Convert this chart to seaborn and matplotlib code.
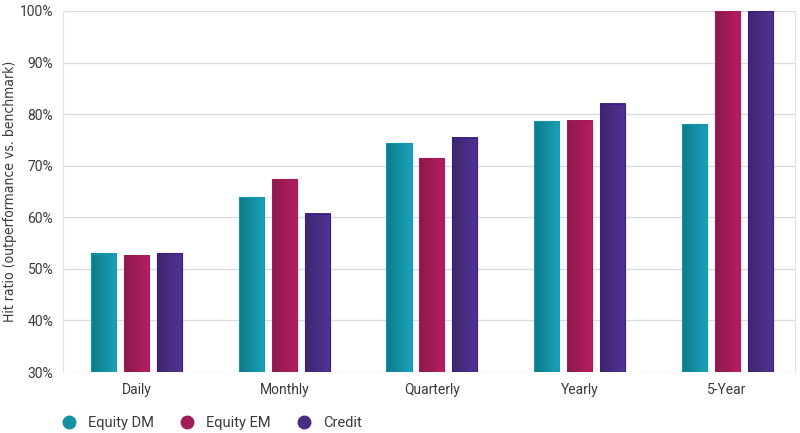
import matplotlib
matplotlib.use("Agg")
import matplotlib.pyplot as plt
import numpy as np
import pandas as pd
import seaborn as sns
from matplotlib.colors import LinearSegmentedColormap
from matplotlib.lines import Line2D
from matplotlib.ticker import FuncFormatter

periods = ["Daily", "Monthly", "Quarterly", "Yearly", "5-Year"]
series = ["Equity DM", "Equity EM", "Credit"]
equity_dm = [52.9, 63.9, 74.4, 78.6, 78.0]
equity_em = [52.5, 67.4, 71.4, 78.7, 100.0]
credit = [53.0, 60.7, 75.4, 82.0, 100.0]

# left -> right gradient per series, plus a flat colour for the legend
grad_colors = {
    "Equity DM": ("#0c7a8a", "#1ba2ba"),
    "Equity EM": ("#8a1a4b", "#b71f62"),
    "Credit": ("#3d276d", "#523394"),
}
edge_colors = {"Equity DM": "#1496ab", "Equity EM": "#a81a55", "Credit": "#3a1c8c"}
legend_colors = {"Equity DM": "#158fa3", "Equity EM": "#a01c58", "Credit": "#472d85"}

df = pd.DataFrame({
    "period": periods * 3,
    "series": [s for s in series for _ in periods],
    "value": equity_dm + equity_em + credit,
})

sns.set_style("white")
plt.rcParams["font.family"] = ["Roboto", "DejaVu Sans"]
text_color = "#3a3a3a"

fig = plt.figure(figsize=(8, 4.33), dpi=100)
ax = fig.add_axes([63 / 800, 1 - 372 / 433, (795 - 63) / 800, (372 - 11) / 433])

ymin, ymax = 30, 100
sns.barplot(data=df, x="period", y="value", hue="series", order=periods, hue_order=series,
            palette=[legend_colors[s] for s in series], width=0.67, gap=0.24,
            legend=False, ax=ax, zorder=3)

for name, cont in zip(series, ax.containers):
    cmap = LinearSegmentedColormap.from_list(name, grad_colors[name])
    grad = np.linspace(0, 1, 64).reshape(1, -1)
    for patch in cont.patches:
        x0, y0 = patch.get_x(), patch.get_y()
        w, h = patch.get_width(), patch.get_height()
        top = min(y0 + h, ymax)
        ax.imshow(grad, cmap=cmap, aspect="auto", extent=[x0, x0 + w, max(y0, ymin), top],
                  zorder=3, interpolation="bilinear")
        patch.set_facecolor("none")
        patch.set_edgecolor(edge_colors[name])
        patch.set_linewidth(0.8)
        patch.set_zorder(4)

ax.set_xlim(-0.5, 4.46)
ax.set_ylim(ymin, ymax)
ax.set_yticks(np.arange(30, 101, 10))
ax.yaxis.set_major_formatter(FuncFormatter(lambda v, p: f"{v:.0f}%"))
ax.grid(axis="y", color="#dcdcdc", linewidth=1, zorder=0)
ax.set_axisbelow(True)
for side in ["top", "bottom"]:
    ax.spines[side].set_visible(False)
for side in ["left", "right"]:
    ax.spines[side].set_color("#e2e2e2")
    ax.spines[side].set_linewidth(0.8)
ax.tick_params(axis="both", length=0, colors=text_color)
ax.tick_params(axis="y", labelsize=10, pad=7)
ax.tick_params(axis="x", labelsize=10, pad=8)
ax.set_xlabel("")
# condensed face so the long label fits the plot height like in the original
ax.set_ylabel("Hit ratio (outperformance vs. benchmark)", fontsize=10, color=text_color,
              family="DejaVu Sans", fontstretch="condensed", labelpad=2)

handles = [Line2D([0], [0], marker="o", linestyle="", markersize=9,
                  markerfacecolor=legend_colors[s], markeredgecolor=legend_colors[s]) for s in series]
fig.legend(handles, series, loc="center left", bbox_to_anchor=(41 / 800, 1 - 423 / 433),
           ncol=3, frameon=False, fontsize=10.5, handletextpad=0.3, columnspacing=1.3,
           labelcolor=text_color)

fig.savefig("out.png", dpi=100)
